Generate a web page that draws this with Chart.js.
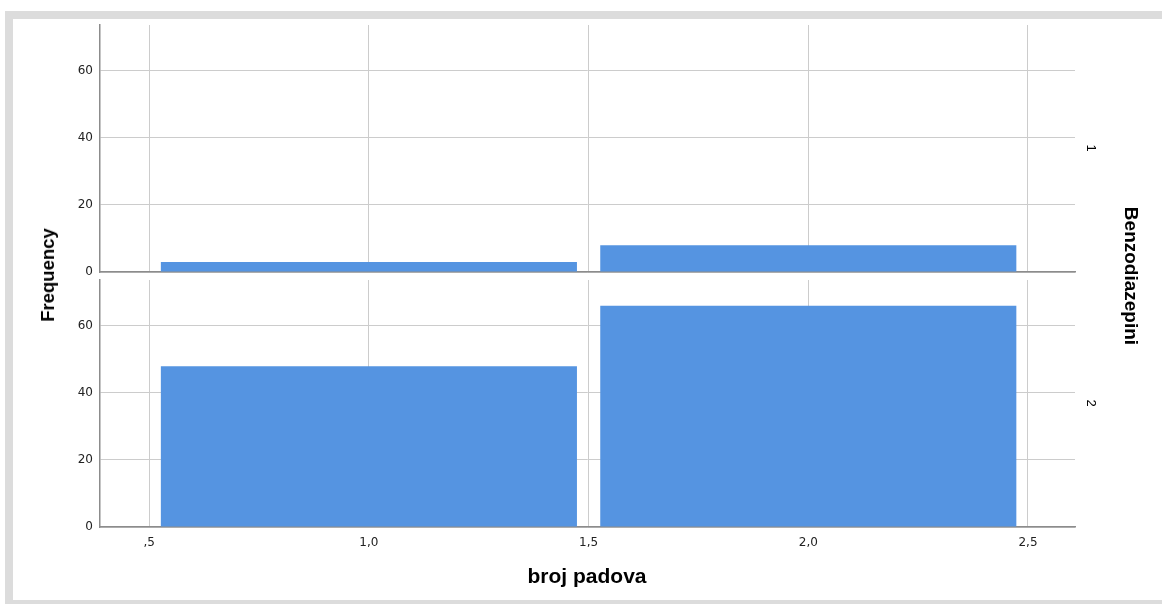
<!DOCTYPE html>
<html>
<head>
<meta charset="utf-8">
<script src="https://cdn.jsdelivr.net/npm/chart.js@4.4.1/dist/chart.umd.min.js"></script>
<style>
  html, body { margin:0; padding:0; background:#fff; }
  #wrap { position:relative; width:1162px; height:604px; overflow:hidden; font-family:"Liberation Sans", Arial, sans-serif; }
  .band { position:absolute; background:#dcdcdc; }
  canvas { position:absolute; left:0; top:0; }
  .lbl { position:absolute; white-space:nowrap; color:#000; }
</style>
</head>
<body>
<div id="wrap">
  <div class="band" style="left:5px;top:11px;width:1157px;height:8px;"></div>
  <div class="band" style="left:5px;top:11px;width:8px;height:593px;"></div>
  <div class="band" style="left:5px;top:600px;width:1157px;height:4px;"></div>
  <canvas id="c1" width="1162" height="604" style="width:1162px;height:604px;"></canvas>
  <canvas id="c2" width="1162" height="604" style="width:1162px;height:604px;"></canvas>
  <div class="lbl" id="ytitle" style="left:48px;top:275px;font-weight:bold;font-size:18.5px;transform:translate(-50%,-50%) rotate(-90deg);">Frequency</div>
  <div class="lbl" id="xtitle" style="left:587px;top:576px;font-weight:bold;font-size:21px;transform:translate(-50%,-50%);">broj padova</div>
  <div class="lbl" id="rtitle" style="left:1131px;top:276px;font-weight:bold;font-size:19px;transform:translate(-50%,-50%) rotate(90deg);">Benzodiazepini</div>
  <div class="lbl" id="p1" style="left:1091px;top:148px;font-size:13px;transform:translate(-50%,-50%) rotate(90deg);">1</div>
  <div class="lbl" id="p2" style="left:1091px;top:403px;font-size:13px;transform:translate(-50%,-50%) rotate(90deg);">2</div>
</div>
<script>
const binCenters = [1.0, 2.0];
const panelLabels = ["1", "2"];
const freqPanel1 = [3, 8];
const freqPanel2 = [48, 66];
const xTickValues = [0.5, 1.0, 1.5, 2.0, 2.5];
const xTickLabels = [",5", "1,0", "1,5", "2,0", "2,5"];
const yTickValues = [0, 20, 40, 60];
const yTickLabels = ["0", "20", "40", "60"];

const X_MIN = 0.388, X_MAX = 2.607, Y_MAX = 73.7;
const BIN_WIDTH = 1.0, TICK_STEP = 0.5, BAR_FILL = 0.947;
const barColor = "#5594e1";
const gridColor = "#cccccc";
const axisColor = "#8c8c8c";
const tickFont = { family: "DejaVu Sans, Verdana, sans-serif", size: 12 };

function makeChart(id, values, padTop, padBottom, showX) {
  const data = binCenters.map((c, i) => ({ x: c, y: values[i] }));
  return new Chart(document.getElementById(id), {
    type: 'bar',
    data: { datasets: [{ data, backgroundColor: barColor, borderWidth: 0,
      // Chart.js measures the bar slot from the smallest gap (tick step), so scale by bin/tick ratio
      barPercentage: BAR_FILL * BIN_WIDTH / TICK_STEP, categoryPercentage: 1.0 }] },
    options: {
      responsive: false, animation: false, devicePixelRatio: 1,
      layout: { padding: { left: 0, right: 87, top: padTop, bottom: padBottom } },
      plugins: { legend: { display: false }, tooltip: { enabled: false } },
      scales: {
        x: {
          type: 'linear', min: X_MIN, max: X_MAX, offset: false,
          afterBuildTicks: s => { s.ticks = xTickValues.map(v => ({ value: v })); },
          afterFit: s => { s.height = showX ? 77 : 0; },
          grid: { color: gridColor, lineWidth: 1, drawTicks: false, offset: false },
          border: { display: true, color: axisColor, width: 1.5 },
          ticks: { display: showX, padding: 9, color: '#222', font: tickFont, maxRotation: 0,
            callback: (v) => { const i = xTickValues.indexOf(v); return i >= 0 ? xTickLabels[i] : ''; } }
        },
        y: {
          type: 'linear', min: 0, max: Y_MAX,
          afterBuildTicks: s => { s.ticks = yTickValues.map(v => ({ value: v })); },
          afterFit: s => { s.width = 100; },
          grid: { color: gridColor, lineWidth: 1, drawTicks: false },
          border: { display: true, color: axisColor, width: 1.5 },
          ticks: { padding: 7, color: '#222', font: tickFont,
            callback: (v) => { const i = yTickValues.indexOf(v); return i >= 0 ? yTickLabels[i] : ''; } }
        }
      }
    }
  });
}
makeChart('c1', freqPanel1, 25, 604 - 272, false);
makeChart('c2', freqPanel2, 280, 0, true);
document.getElementById('p1').textContent = panelLabels[0];
document.getElementById('p2').textContent = panelLabels[1];
</script>
</body>
</html>
